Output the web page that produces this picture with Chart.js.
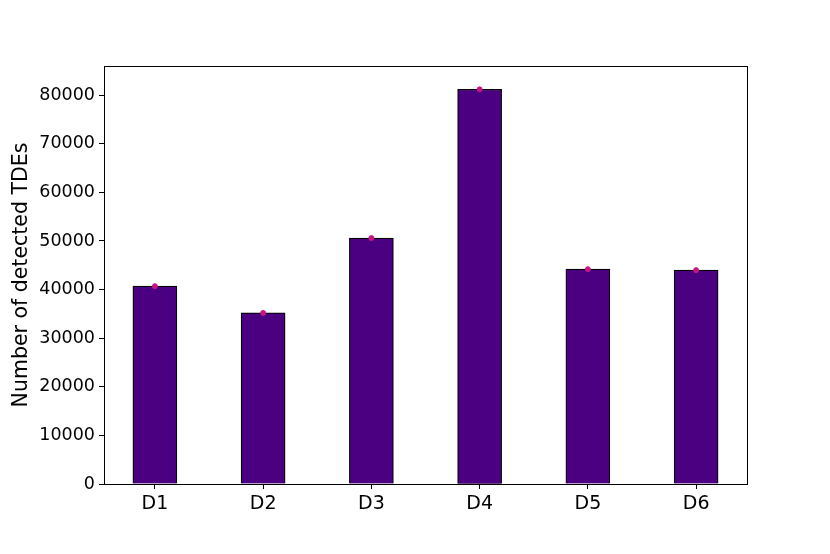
<!DOCTYPE html>
<html>
<head>
<meta charset="utf-8">
<script src="https://cdn.jsdelivr.net/npm/chart.js@4"></script>
<style>
html,body{margin:0;padding:0;background:#fff;}
#wrap{width:830px;height:554px;}
</style>
</head>
<body>
<div id="wrap"><canvas id="c" width="830" height="554"></canvas></div>
<script>
const categories = ["D1","D2","D3","D4","D5","D6"];
const tdeCounts = [40700, 35200, 50600, 81200, 44200, 44000];
const yTicks = [0,10000,20000,30000,40000,50000,60000,70000,80000];

const frame = {
  id:'frame',
  afterDatasetsDraw(chart){
    const a = chart.chartArea, ctx = chart.ctx;
    ctx.save();
    ctx.strokeStyle = '#000';
    ctx.lineWidth = 1;
    ctx.strokeRect(Math.round(a.left)+0.5, Math.round(a.top)+0.5, Math.round(a.right-a.left), Math.round(a.bottom-a.top));
    ctx.restore();
  }
};

new Chart(document.getElementById('c'), {
  data: {
    datasets: [
      {
        type:'bar',
        data: tdeCounts.map((v,i)=>({x:i,y:v})),
        backgroundColor:'#4b0082',
        borderColor:'#000',
        borderWidth:1.2,
        barThickness:44,
        order:2
      },
      {
        type:'scatter',
        data: tdeCounts.map((v,i)=>({x:i,y:v})),
        backgroundColor:'#c71585',
        borderColor:'#c71585',
        pointRadius:2.5,
        order:1
      }
    ]
  },
  options: {
    responsive:false,
    animation:false,
    layout:{padding:{top:66,right:83,left:9,bottom:0}},
    plugins:{legend:{display:false},tooltip:{enabled:false}},
    scales:{
      x:{
        type:'linear',
        offset:false,
        min:-0.47, max:5.47,
        afterBuildTicks(s){ s.ticks = categories.map((c,i)=>({value:i})); },
        afterFit(s){ s.height = 70; },
        ticks:{
          callback:(v)=>categories[v],
          color:'#000',
          font:{family:'DejaVu Sans', size:19},
          padding:4,
          maxRotation:0, autoSkip:false
        },
        grid:{offset:false, drawOnChartArea:false, drawTicks:true, tickLength:5, color:'#000'},
        border:{display:true,color:'#000'}
      },
      y:{
        type:'linear',
        min:0, max:86000,
        afterBuildTicks(s){ s.ticks = yTicks.map(v=>({value:v})); },
        afterFit(s){ s.width = 95; },
        ticks:{
          callback:(v)=>String(v),
          color:'#000',
          font:{family:'DejaVu Sans', size:17.5},
          padding:4
        },
        grid:{drawOnChartArea:false, drawTicks:true, tickLength:5, color:'#000'},
        border:{display:true,color:'#000'},
        title:{display:true,text:'Number of detected TDEs',color:'#000',font:{family:'DejaVu Sans',size:20.5},padding:{top:0,bottom:4}}
      }
    }
  },
  plugins:[frame]
});
</script>
</body>
</html>
